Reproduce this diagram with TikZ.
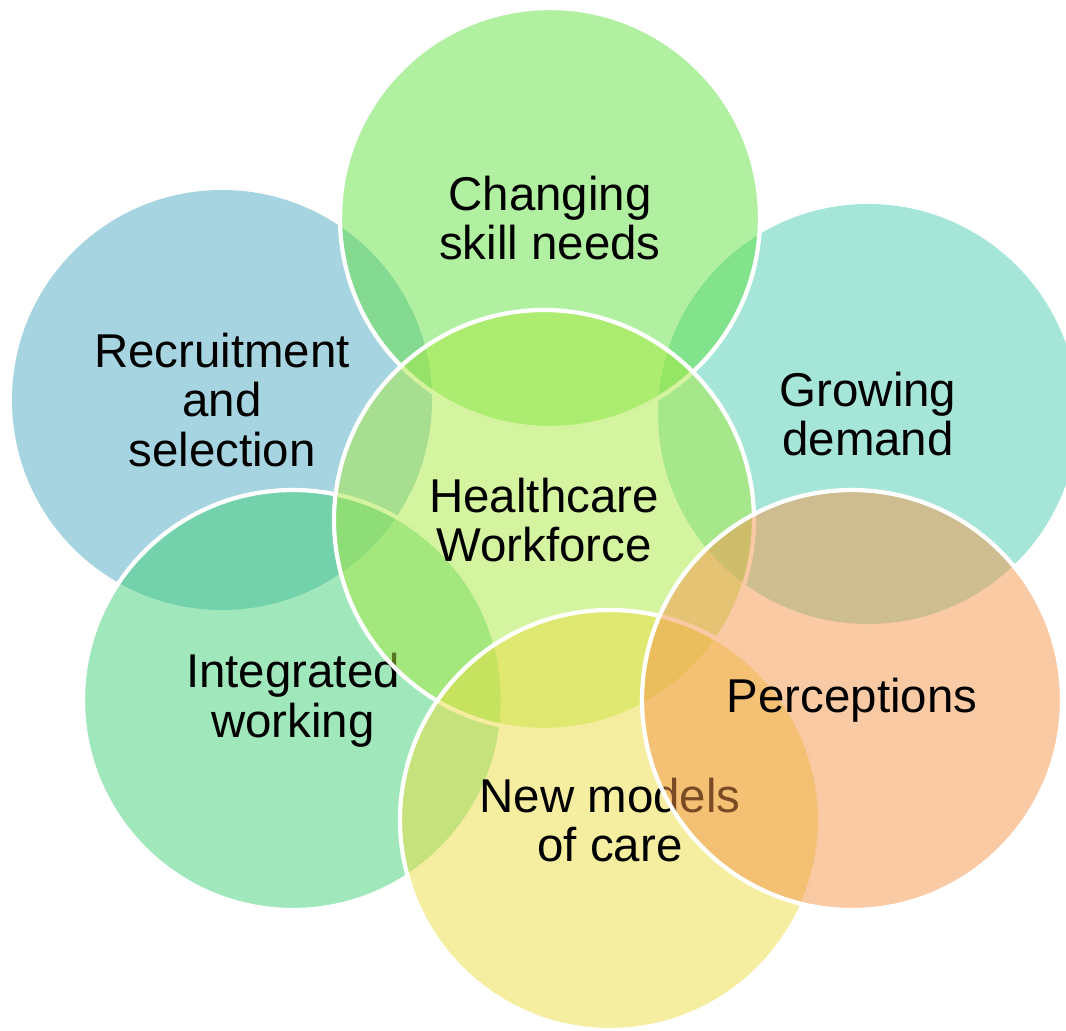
\documentclass[tikz,border=0pt]{standalone}
\usepackage{fontspec}
\setmainfont{Liberation Sans}
\usepackage{tikz}

\definecolor{recfill}{RGB}{77,169,193}
\definecolor{demfill}{RGB}{77,205,177}
\definecolor{skillfill}{RGB}{97,225,65}
\definecolor{intfill}{RGB}{65,209,121}
\definecolor{hcfill}{RGB}{169,233,65}
\definecolor{modfill}{RGB}{235,221,65}
\definecolor{percfill}{RGB}{245,149,73}

\tikzset{
  bubble/.style={circle,minimum size=4.2cm,inner sep=0pt,
    fill opacity=0.5,text opacity=1,align=center,
    font=\fontsize{13.5pt}{14.2pt}\selectfont},
  rim/.style={draw=white,line width=1.2pt}
}

\begin{document}
\begin{tikzpicture}
  \useasboundingbox (0,0) rectangle (10.66,10.30);

  % outer ring, back to front
  \node[bubble,fill=recfill] (recruit) at (2.22,6.30) {Recruitment\\and\\selection};
  \node[bubble,fill=demfill] (demand) at (8.68,6.16) {Growing\\demand};
  \node[bubble,rim,fill=skillfill] (skills) at (5.50,8.12) {Changing\\skill needs};
  \node[bubble,rim,fill=intfill] (integr) at (2.93,3.30) {Integrated\\working};

  % centre
  \node[bubble,rim,fill=hcfill] (health) at (5.44,5.10) {Healthcare\\Workforce};

  \node[bubble,rim,fill=modfill] (models) at (6.10,2.10) {New models\\of care};
  \node[bubble,rim,fill=percfill] (percep) at (8.52,3.30) {Perceptions};
\end{tikzpicture}
\end{document}
